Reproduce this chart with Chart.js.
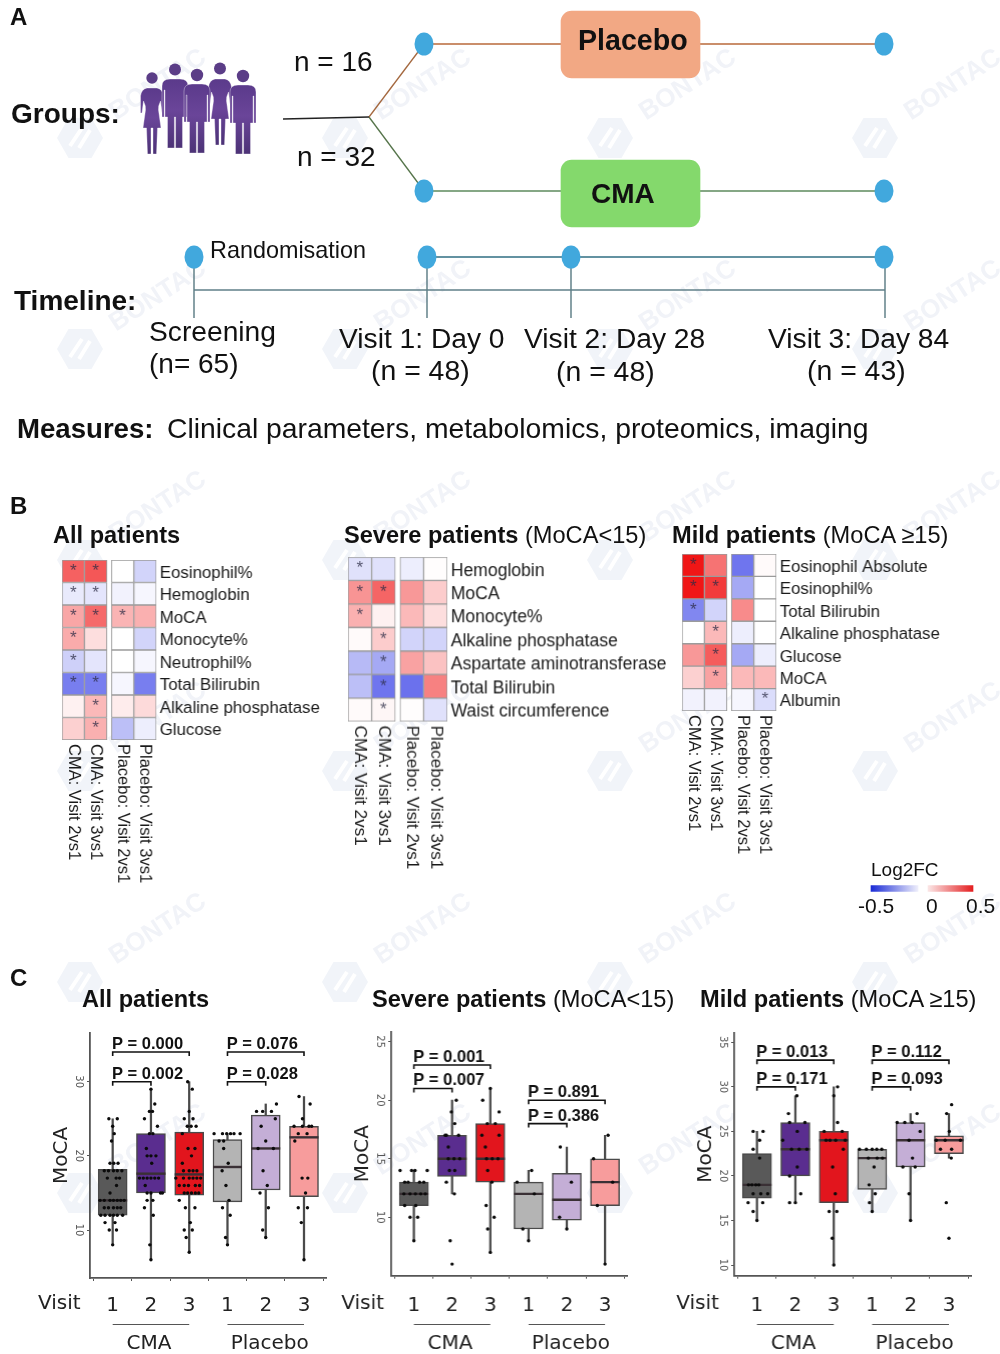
<!DOCTYPE html>
<html><head><meta charset="utf-8">
<script src="https://cdn.jsdelivr.net/npm/chart.js@4"></script>
<style>
html,body{margin:0;padding:0;background:#fff}
#page{position:relative;width:1000px;height:1354px;overflow:hidden;font-family:"Liberation Sans",Arial,sans-serif;color:#111}
canvas{position:absolute}
.t{position:absolute;white-space:nowrap;transform:translateY(-50%);line-height:1.1}
.b{font-weight:700}
svg{position:absolute;left:0;top:0}
</style></head><body><div id="page">
<svg width="1000" height="200" id="people"></svg>
</div>
<script>
/* ---------- panel B: heat-map data (Log2FC) ---------- */
const heatColumns = ['CMA: Visit 2vs1','CMA: Visit 3vs1','Placebo: Visit 2vs1','Placebo: Visit 3vs1'];
const heatColumnSlots = [0,1,2.2,3.2];
const allRows = ['Eosinophil%','Hemoglobin','MoCA','Monocyte%','Neutrophil%','Total Bilirubin','Alkaline phosphatase','Glucose'];
const allHeat = [[.34,.36,0,-.1],[-.05,-.06,-.03,-.02],[.19,.32,.16,.17],[.18,.07,0,-.1],[-.11,-.06,0,-.02],[-.3,-.3,-.02,-.3],[.03,.15,.04,.08],[.1,.17,-.15,-.04]];
const allStars = [[1,1,0,0],[1,1,0,0],[1,1,1,0],[1,0,0,0],[1,0,0,0],[1,1,0,0],[0,1,0,0],[0,1,0,0]];
const severeRows = ['Hemoglobin','MoCA','Monocyte%','Alkaline phosphatase','Aspartate aminotransferase','Total Bilirubin','Waist circumference'];
const severeHeat = [[-.07,-.07,-.04,.005],[.23,.33,.22,.11],[.17,.03,.15,.07],[.01,.11,-.1,-.1],[-.16,-.2,.2,.13],[-.15,-.32,-.33,.27],[.01,.02,.005,-.07]];
const severeStars = [[1,0,0,0],[1,1,0,0],[1,0,0,0],[0,1,0,0],[0,1,0,0],[0,1,0,0],[0,1,0,0]];
const mildRows = ['Eosinophil Absolute','Eosinophil%','Total Bilirubin','Alkaline phosphatase','Glucose','MoCA','Albumin'];
const mildHeat = [[.5,.3,-.32,.01],[.5,.42,-.2,0],[-.28,-.1,.25,0],[0,.15,-.04,0],[.22,.35,-.2,-.04],[.1,.2,.15,.15],[-.03,-.03,-.02,-.08]];
const mildStars = [[1,0,0,0],[1,1,0,0],[1,0,0,0],[0,1,0,0],[0,1,0,0],[0,1,0,0],[0,0,0,1]];

/* ---------- panel C: MoCA box plots ---------- */
const visitLabels = ['1','2','3','1','2','3'];
const visitSlots = [1,2,3,4,5,6];
const boxColors = ['#595959','#5a2d8f','#e2151d','#b4b4b4','#c4aed6','#f79c9c'];
const bracketFrom = [1,1,4,4];
const bracketTo = [2,3,5,6];

const allLow = [8,6,7,8,9,6];
const allQ1 = [12,15,14.7,13.8,15.4,14.5];
const allMedian = [14,17.6,17.5,18.5,21,22.5];
const allQ3 = [18.2,23,23.2,22.2,25.5,24];
const allHigh = [25,29,30,23,27,28];
const allTicks = [10,20,30];
const allBrackets = [30,34,30,34];
const allP = ['P = 0.002','P = 0.000','P = 0.028','P = 0.076'];
const allPoints = [
 [[25,[-.1,.12]],[24,[0]],[23,[.04]],[22,[-.03]],[19,[-.07,.03,.14]],[18,[-.22,-.11,.02,.12,.24]],[17,[-.14,.09,.18]],[16,[.1]],[15,[-.07]],[14,[-.33,-.22,-.07,.02,.12,.21,.3]],[13,[-.22,-.11,.02,.12,.21]],[12,[-.31,-.2,-.07,.02,.12,.26]],[11,[-.2,.06]],[10,[-.09,.1]],[8,[0]]],
 [[29,[0]],[27,[.1]],[26,[-.04,.04]],[25,[-.17]],[24,[.17]],[23,[-.04,.05]],[21,[-.12]],[20,[-.1,0,.13]],[19,[.02]],[17,[-.3,-.2,-.1,0,.1,.2]],[16,[-.15]],[15,[-.1,0,.25,.3]],[14,[-.1,.05]],[13,[-.17]],[12,[.06]],[8,[-.03]],[6,[0]]],
 [[30,[-.04]],[29,[.08]],[26,[0]],[25,[-.13,.1]],[24,[-.05,.05,.18]],[23,[-.18]],[21,[-.03,.15]],[20,[.06]],[19,[-.18]],[18,[-.15,0,.1,.2]],[17,[-.35,-.15,0,.1,.2,.3]],[16,[-.26,-.13,-.02,.16,.27]],[15,[-.13,-.04,.06,.16,.25]],[14,[-.26]],[13,[-.1,.15]],[11,[.03]],[10,[-.13,.08]],[9,[-.08]],[7,[0]]],
 [[23,[-.35,-.13,-.02,.08,.17,.33]],[22,[-.22,-.1]],[21,[-.1]],[19,[.02]],[18,[-.14]],[16,[-.04]],[14,[.04]],[13,[-.13]],[12,[.07]],[9,[-.05]],[8,[0]]],
 [[27,[.28]],[26,[-.24,-.08,.15]],[25,[.25]],[24,[-.12]],[22,[0]],[21,[-.2,.2]],[18,[-.07]],[16,[.04]],[15,[-.15]],[13,[.07]],[10,[-.08]],[9,[0]]],
 [[28,[-.13]],[27,[.16]],[25,[-.04]],[24,[-.26,-.04,.13,.2]],[23,[-.15,.08]],[22,[-.24]],[17,[-.05,.1]],[15,[.04]],[13,[-.15,.09]],[11,[-.07]],[6,[0]]]
];

const severeLow = [8,12,7,8,9,6];
const severeQ1 = [11,13.5,13,9,9.75,11];
const severeMedian = [12,15,15,12,11.5,13];
const severeQ3 = [13,17,18,13,13.75,15];
const severeHigh = [14,20,21,14,16,17];
const severeTicks = [10,15,20,25];
const severeBrackets = [21,23,18,20];
const severeP = ['P = 0.007','P = 0.001','P = 0.386','P = 0.891'];
const severePoints = [
 [[14,[-.36,-.06,.03,.35]],[13,[-.24,-.15,.15,.26]],[12,[-.26,-.1,.04,.18,.3]],[11,[-.24,.05]],[10,[-.1,.1]],[8,[0]]],
 [[20,[.11]],[19,[-.02]],[18,[.07]],[17,[-.18,-.15,.17]],[16,[-.1]],[15,[-.1,.05,.2]],[14,[-.07,.07]],[13,[-.15]],[12,[.06]],[8,[-.05]],[6,[0]]],
 [[21,[0]],[20,[-.2]],[19,[.23]],[18,[-.08,.13]],[17,[-.22,.23]],[16,[-.13]],[15,[-.1,.05,.2]],[14,[-.07]],[13,[.04]],[11,[-.11]],[10,[.1]],[9,[-.07]],[7,[0]]],
 [[14,[.08]],[13,[-.3]],[12,[.15]],[9,[-.15]],[8,[0]]],
 [[16,[-.17]],[13,[.12]],[10,[-.19]],[9,[0]]],
 [[17,[.08]],[15,[-.3]],[13,[.2]],[11,[-.2]],[6,[0]]]
];

const mildLow = [15,17,10,16,15,22];
const mildQ1 = [17.5,20,17,18.5,21,22.5];
const mildMedian = [19,23,24,22,24,24];
const mildQ3 = [22.5,26,25,23,26,24.5];
const mildHigh = [25,29,30,23,27,27];
const mildTicks = [10,15,20,25,30,35];
const mildBrackets = [30,33,30,33];
const mildP = ['P = 0.171','P = 0.013','P = 0.093','P = 0.112'];
const mildPoints = [
 [[25,[-.1,.16]],[24,[.07]],[23,[-.1]],[22,[.07]],[19,[-.22,-.13,-.03,.05]],[18,[-.1,.1,.28]],[17,[-.23,.15]],[16,[-.1]],[15,[0]]],
 [[29,[.04]],[27,[-.18]],[26,[-.15,.25]],[25,[.05]],[24,[-.33]],[23,[-.1,.1,.3]],[21,[.05]],[20,[-.15]],[18,[.14]],[17,[-.15,0]]],
 [[30,[.1]],[29,[0]],[26,[.1]],[25,[-.25,.22]],[24,[-.2,-.1,.05,.3]],[23,[.25]],[21,[-.03]],[18,[.04]],[16,[-.12,.08]],[13,[-.04]],[10,[0]]],
 [[23,[-.33,-.15,0,.12,.25]],[22,[-.1,.13,.27]],[21,[.05]],[19,[-.08]],[18,[.08]],[17,[-.07]],[16,[0]]],
 [[27,[.17]],[26,[-.35,-.15,.04]],[25,[.25]],[24,[-.04]],[22,[.05]],[21,[-.2,.12]],[18,[-.04]],[15,[0]]],
 [[28,[.07]],[27,[-.06]],[25,[.01]],[24,[-.33,-.1,.3]],[23,[-.22,.07]],[22,[.06]],[17,[-.07]],[13,[0]]]
];

/* ---------- helpers ---------- */
const SANS = '"Liberation Sans", Arial, sans-serif';
const DEJA = '"DejaVu Sans", sans-serif';
const page = document.getElementById('page');
Chart.defaults.animation = false;
Chart.defaults.responsive = false;
Chart.defaults.devicePixelRatio = 1;
Chart.defaults.layout.autoPadding = false;

function newCtx(left, top, w, h){
  const c = document.createElement('canvas');
  c.width = w; c.height = h;
  c.style.left = left+'px'; c.style.top = top+'px';
  c.style.width = w+'px'; c.style.height = h+'px';
  page.appendChild(c);
  return c;
}
function text(str, x, y, size, bold, extra){
  const s = document.createElement('div');
  s.className = 't'+(bold?' b':'');
  s.style.left = x+'px'; s.style.top = (y+1)+'px'; s.style.fontSize = size+'px';
  s.innerHTML = str;
  if (extra) Object.assign(s.style, extra);
  page.appendChild(s);
}
function heatColor(v){
  const t = Math.min(Math.abs(v)/.5, 1);
  const to = v >= 0 ? [240,22,22] : [30,40,228];
  const c = to.map(k => Math.round(255+(k-255)*t));
  return `rgb(${c[0]},${c[1]},${c[2]})`;
}

/* ---------- full-page schematic chart (panel A, colour key, faint marks) ---------- */
const nodeSprite = document.createElement('canvas');
nodeSprite.width = 20; nodeSprite.height = 24;
{ const g = nodeSprite.getContext('2d'); g.fillStyle = '#41a8dd'; g.beginPath(); g.ellipse(10,12,9.5,11.5,0,0,Math.PI*2); g.fill(); }

const markRowsY = [138,349,560,771,982,1193];
const markColsX = [80,345,610,875];
const faintMarks = { id:'faintMarks', beforeDatasetsDraw(ch){
  const g = ch.ctx; g.save();
  for (const y of markRowsY) for (const x of markColsX){
    g.save(); g.translate(x,y);
    g.fillStyle = '#f1f4f9';
    g.beginPath();
    for (let i=0;i<6;i++){ const a = Math.PI/3*i; const px=23*Math.cos(a), py=23*Math.sin(a); i?g.lineTo(px,py):g.moveTo(px,py); }
    g.closePath(); g.fill();
    g.strokeStyle='#fff'; g.lineWidth=4; g.beginPath(); g.moveTo(-10,8); g.lineTo(2,-10); g.moveTo(-1,10); g.lineTo(10,-8); g.stroke();
    g.restore();
    g.save(); g.translate(x+78,y-53); g.rotate(-33*Math.PI/180);
    g.font = '700 26px '+SANS; g.fillStyle='#f1f3f8'; g.textAlign='center'; g.textBaseline='middle';
    g.fillText('BONTAC',0,0); g.restore();
  }
  g.restore();
}};
function seg(points,color,width){ return {type:'scatter',showLine:true,data:points.map(p=>({x:p[0],y:p[1]})),borderColor:color,borderWidth:width||1.3,pointRadius:0,order:5}; }
const bgCanvas = newCtx(0,0,1000,1354);
const bgCtx = bgCanvas.getContext('2d');
const keyBlue = bgCtx.createLinearGradient(871,0,918,0); keyBlue.addColorStop(0,'#1a2bd6'); keyBlue.addColorStop(1,'#eeeefb');
const keyRed = bgCtx.createLinearGradient(928,0,973,0); keyRed.addColorStop(0,'#fbe6e6'); keyRed.addColorStop(1,'#e41e20');
new Chart(bgCanvas,{type:'bar',
 data:{datasets:[
  seg([[283,119],[369,117]],'#222'),
  seg([[369,117],[424,44]],'#a4683f'),
  seg([[369,117],[424,191]],'#55744a'),
  seg([[424,44],[884,44]],'#b8693a',1.6),
  seg([[424,191],[884,191]],'#5c8a5c',1.6),
  seg([[427,257],[884,257]],'#2f6e82',1.6),
  seg([[194,290],[885,290]],'#5f7f88',1.4),
  seg([[194,257],[194,318]],'#4b6f78'),
  seg([[427,257],[427,318]],'#4b6f78'),
  seg([[571,257],[571,318]],'#4b6f78'),
  seg([[885,257],[885,318]],'#4b6f78'),
  {type:'scatter',data:[[424,44],[884,44],[424,191],[884,191],[194,257],[427,257],[571,257],[884,257]].map(p=>({x:p[0],y:p[1]})),pointStyle:nodeSprite,pointRadius:10,order:1},
  {type:'bar',grouped:false,data:[{x:630.5,y:[11,78]}],barThickness:139,backgroundColor:'#f2a884',borderRadius:11,borderSkipped:false,order:2},
  {type:'bar',grouped:false,data:[{x:630.5,y:[160,227]}],barThickness:139,backgroundColor:'#84d96c',borderRadius:11,borderSkipped:false,order:2},
  {type:'bar',grouped:false,data:[{x:894.5,y:[885.5,891.5]}],barThickness:47,backgroundColor:keyBlue,order:2},
  {type:'bar',grouped:false,data:[{x:950.5,y:[885.5,891.5]}],barThickness:45,backgroundColor:keyRed,order:2}
 ]},
 options:{events:[],layout:{padding:0},plugins:{legend:{display:false},tooltip:{enabled:false}},
  scales:{x:{type:'linear',display:false,offset:false,min:0,max:1000},y:{type:'linear',display:false,reverse:true,min:0,max:1354}}},
 plugins:[faintMarks]});

/* people pictogram */
const MAN='M-13 38V7Q-13 0-5 0H5Q13 0 13 7V38H10.8V11H10V38H7.5V69H.6V38H-.6V69H-7.5V38H-10V11H-10.8V38Z';
const WOMAN='M-5 0H5Q10.500 1 11.500 8L11.500 25 10 25 8.500 13Q6 18 6.500 22L9 40H5.500L4.500 66H1V40H-1V66H-4.500L-5.500 40H-9L-6.500 22Q-6 18-8.500 13L-10 25-11.500 25-11.500 8Q-10.500 1-5 0Z';
const crowd=[[152,78,5.7,88,WOMAN],[175,69.5,6,79,MAN],[220,68.5,6,79,WOMAN],[197,75,6.2,84,MAN],[243,76,6.2,85,MAN]];
document.getElementById('people').style.zIndex=2;
document.getElementById('people').innerHTML='<defs><linearGradient id="pg" x1="0" y1="0" x2="0" y2="1"><stop offset="0" stop-color="#5b3a8b"/><stop offset=".45" stop-color="#6a4599"/><stop offset="1" stop-color="#4c3276"/></linearGradient></defs>'+
 crowd.map(f=>`<circle cx="${f[0]}" cy="${f[1]}" r="${f[2]}" fill="#5b3d87"/><path transform="translate(${f[0]},${f[3]})" d="${f[4]}" fill="url(#pg)" stroke="#fff" stroke-width=".35"/>`).join('');

/* ---------- heat maps ---------- */
const heatNotes = { id:'heatNotes', afterDatasetsDraw(ch,_,o){
  const g = ch.ctx, xs = ch.scales.x, ys = ch.scales.y;
  g.save();
  g.font='17px '+SANS; g.fillStyle='rgba(45,45,70,.78)'; g.textAlign='center'; g.textBaseline='middle';
  o.stars.forEach((row,r)=>row.forEach((s,c)=>{ if(s) g.fillText('*',xs.getPixelForValue(heatColumnSlots[c]),ys.getPixelForValue(r)); }));
  g.font=o.colFont+'px '+SANS; g.fillStyle='#1a1a1a'; g.textAlign='left';
  heatColumns.forEach((name,c)=>{ g.save(); g.translate(xs.getPixelForValue(heatColumnSlots[c]),ys.bottom+4); g.rotate(Math.PI/2); g.fillText(name,0,0); g.restore(); });
  g.restore();
}};
function heat(left,top,right,bottom,rows,vals,stars,rowFont,colFont){
  const canvas = newCtx(left-2,top-2,right-left+240,bottom-top+160);
  canvas.style.zIndex=3;
  new Chart(canvas,{type:'bar',
    data:{labels:rows,datasets:heatColumns.map((n,c)=>({
      label:n,grouped:false,barPercentage:1,categoryPercentage:1,
      data:rows.map((r,i)=>({x:[heatColumnSlots[c]-.5,heatColumnSlots[c]+.5],y:r})),
      backgroundColor:vals.map(v=>heatColor(v[c])),borderColor:'#9b9b9b',borderWidth:1,borderSkipped:false}))},
    options:{indexAxis:'y',events:[],layout:{padding:{left:2,top:2,bottom:158,right:0}},
      plugins:{legend:{display:false},tooltip:{enabled:false},heatNotes:{stars,colFont}},
      scales:{x:{type:'linear',display:false,offset:false,min:-.5,max:3.7},
        y:{type:'category',position:'right',offset:true,grid:{display:false,drawTicks:false},border:{display:false},
           afterFit(s){s.width=238;s.paddingTop=0;s.paddingBottom=0;},
           ticks:{padding:3.5,labelOffset:2,autoSkip:false,color:'#1a1a1a',font:{family:SANS,size:rowFont}}}}},
    plugins:[heatNotes]});
}
heat(62.3,560.3,156.7,740.3,allRows,allHeat,allStars,16.8,16.5);
heat(348.3,557.3,447.7,721.7,severeRows,severeHeat,severeStars,17.5,17);
heat(682,554.3,776.7,711.3,mildRows,mildHeat,mildStars,16.8,16.5);

/* ---------- box plots ---------- */
const PAGE_TOP = 1022;
const X_AXIS_BAND = 48;
const panelNotes = { id:'panelNotes', afterDraw(ch,_,o){
  const g = ch.ctx, xs = ch.scales.x, ys = ch.scales.y;
  g.save();
  g.strokeStyle='#111'; g.lineWidth=1.6; g.fillStyle='#111';
  g.font='700 16.5px '+SANS; g.textAlign='left'; g.textBaseline='alphabetic';
  bracketFrom.forEach((f,i)=>{
    const a=xs.getPixelForValue(f), b=xs.getPixelForValue(bracketTo[i]), y=ys.getPixelForValue(o.levels[i]);
    g.beginPath(); g.moveTo(a,y+4); g.lineTo(a,y); g.lineTo(b,y); g.lineTo(b,y+4); g.stroke();
    g.fillText(o.ps[i],a-.7,y-3);
  });
  const ruleY=1324.5-PAGE_TOP;
  g.strokeStyle='#555'; g.lineWidth=1.1;
  [[1,3],[4,6]].forEach(([a,b])=>{g.beginPath();g.moveTo(xs.getPixelForValue(a),ruleY);g.lineTo(xs.getPixelForValue(b),ruleY);g.stroke();});
  g.font='20px '+DEJA; g.fillStyle='#222'; g.textBaseline='middle'; g.textAlign='center';
  g.fillText('CMA',xs.getPixelForValue(2)-2,ruleY+19.5);
  g.fillText('Placebo',xs.getPixelForValue(5)+4,ruleY+19.5);
  g.textAlign='left';
  g.fillText('Visit',o.visitX,1303.5-PAGE_TOP);
  g.restore();
}};
function boxes(axisX,top,bottom,right,yMin,yMax,low,q1,med,q3,high,ticks,pts,levels,ps,visitPageX){
  const canvas=newCtx(axisX-60,PAGE_TOP,right-axisX+70,1354-PAGE_TOP);
  canvas.style.zIndex=3;
  const scatterPts=[];
  pts.forEach((grp,i)=>grp.forEach(([v,dxs])=>dxs.forEach(d=>scatterPts.push({x:visitSlots[i]+d,y:v}))));
  new Chart(canvas,{type:'bar',
    data:{datasets:[
      {type:'bar',grouped:false,barThickness:1.6,backgroundColor:'#4a4a4a',data:visitSlots.map((x,i)=>({x,y:[low[i],high[i]]})),order:4},
      {type:'bar',grouped:false,barThickness:29,backgroundColor:boxColors,borderColor:'#4a4a4a',borderWidth:1.5,borderSkipped:false,data:visitSlots.map((x,i)=>({x,y:[q1[i],q3[i]]})),order:3},
      {type:'scatter',data:visitSlots.map((x,i)=>({x,y:med[i]})),pointStyle:'line',pointRadius:14.5,pointBorderWidth:2.4,pointBorderColor:'#3a3035',order:2},
      {type:'scatter',data:scatterPts,pointRadius:1.7,pointBorderWidth:0,pointBackgroundColor:'#0b0b0b',order:1}
    ]},
    options:{events:[],layout:{padding:{left:0,top:top-PAGE_TOP,right:10,bottom:1354-bottom-X_AXIS_BAND}},
      plugins:{legend:{display:false},tooltip:{enabled:false},panelNotes:{levels,ps,visitX:visitPageX-(axisX-60)}},
      scales:{
        x:{type:'linear',offset:false,min:.407,max:6.575,
           afterBuildTicks(s){s.ticks=visitSlots.map(v=>({value:v}));},
           afterFit(s){s.height=X_AXIS_BAND;s.paddingLeft=0;s.paddingRight=0;},
           grid:{drawOnChartArea:false,drawTicks:true,tickLength:3,color:'#555'},
           border:{color:'#555',width:1.8},
           ticks:{padding:1291-bottom,autoSkip:false,maxRotation:0,color:'#222',font:{family:DEJA,size:20},callback:(v,i)=>visitLabels[i]}},
        y:{type:'linear',min:yMin,max:yMax,
           afterBuildTicks(s){s.ticks=ticks.map(v=>({value:v}));},
           afterFit(s){s.width=60;s.paddingTop=0;s.paddingBottom=0;},
           title:{display:true,text:'MoCA',color:'#222',font:{family:DEJA,size:20},padding:{top:20,bottom:0}},
           grid:{drawOnChartArea:false,drawTicks:true,tickLength:3,color:'#555'},
           border:{color:'#555',width:1.8},
           ticks:{padding:2,minRotation:-90,maxRotation:-90,crossAlign:'center',color:'#555',font:{family:DEJA,size:10}}}
      }},
    plugins:[panelNotes]});
}
boxes(90,1033,1278,326,3.53,36.57,allLow,allQ1,allMedian,allQ3,allHigh,allTicks,allPoints,allBrackets,allP,38);
boxes(391.3,1031.7,1275.7,627.3,5.01,25.85,severeLow,severeQ1,severeMedian,severeQ3,severeHigh,severeTicks,severePoints,severeBrackets,severeP,341.5);
boxes(734.3,1032.7,1275.7,970.7,8.8,36.08,mildLow,mildQ1,mildMedian,mildQ3,mildHigh,mildTicks,mildPoints,mildBrackets,mildP,676.5);

/* ---------- page text ---------- */
const Z={zIndex:4};
text('A',10,16,24,true,Z); text('B',10,505,24,true,Z); text('C',10,977,24,true,Z);
text('Groups:',11,113,28,true,Z);
text('n = 16',294,61,28,false,Z); text('n = 32',297,156,28,false,Z);
text('Placebo',578,39.5,28.6,true,Z); text('CMA',591,193,28,true,Z);
text('Randomisation',210,249.5,23.4,false,Z);
text('Timeline:',14,299.5,28,true,Z);
text('Screening',149,331,28.2,false,Z); text('(n= 65)',149,363,28,false,Z);
text('Visit 1: Day 0',339,338,28.2,false,Z); text('(n = 48)',371,370,28.4,false,Z);
text('Visit 2: Day 28',524,338,28.2,false,Z); text('(n = 48)',556,371,28.4,false,Z);
text('Visit 3: Day 84',768,338,28.2,false,Z); text('(n = 43)',807,370,28.4,false,Z);
text('<b>Measures:</b>',17,427.5,27.6,false,Z);
text('Clinical parameters, metabolomics, proteomics, imaging',167,427.5,28.3,false,Z);
text('<b>All patients</b>',53,534.5,23.6,false,Z);
text('<b>Severe patients</b> (MoCA&lt;15)',344,534.5,23.6,false,Z);
text('<b>Mild patients</b> (MoCA ≥15)',672,534.5,23.6,false,Z);
text('Log2FC',871,868.5,19,false,Z);
text('-0.5',858,904.5,21,false,Z); text('0',926,904.5,21,false,Z); text('0.5',966,904.5,21,false,Z);
text('<b>All patients</b>',82,998.5,23.6,false,Z);
text('<b>Severe patients</b> (MoCA&lt;15)',372,998.5,23.6,false,Z);
text('<b>Mild patients</b> (MoCA ≥15)',700,998.5,23.6,false,Z);
</script></body></html>
